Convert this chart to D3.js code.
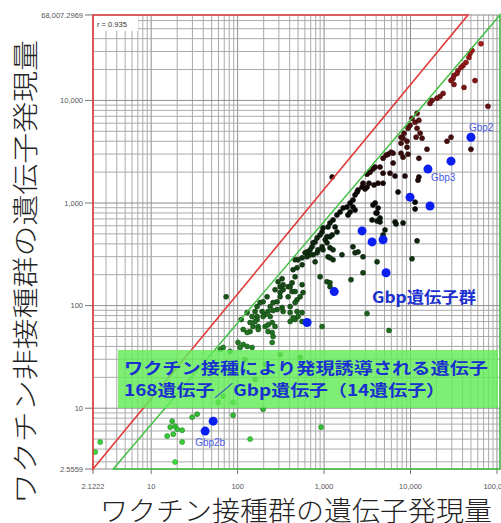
<!DOCTYPE html>
<html>
<head>
<meta charset="utf-8">
<script src="https://cdn.jsdelivr.net/npm/d3@7"></script>
<style>
  html, body { margin: 0; padding: 0; background: #fff; overflow: hidden; }
  svg { display: block; }
</style>
</head>
<body>
<svg id="chart" width="501" height="523"></svg>
<script>
// Axis ranges (expression levels, log scale)
const xDomain = [2.1222, 108400];
const yDomain = [2.5559, 68007.2969];

const xTickValues = [2.1222, 10, 100, 1000, 10000, 100000];
const xTickLabels = ["2.1222", "10", "100", "1,000", "10,000", "100,000"];
const yTickValues = [2.5559, 10, 100, 1000, 10000, 68007.2969];
const yTickLabels = ["2.5559", "10", "100", "1,000", "10,000", "68,007.2969"];

const correlationText = "r = 0.935";

// Boundary lines: [vaccinated, non-vaccinated]
const upperBoundary = [[2.1222, 2.5559], [46200, 68007.2969], [2.1222, 68007.2969]];
const lowerBoundary = [[3.64, 2.5559], [108400, 68007.2969], [108400, 2.5559]];

// Genes: [vaccinated group expression, non-vaccinated group expression]
const genePoints = [
  [65300,35700],[51400,30600],[48700,28600],[47400,26200],[43800,23400],[40500,21900],[38400,20900],
  [35400,19500],[34500,18300],[31800,17500],[31000,16400],[29400,15600],[55700,15600],[41500,13400],
  [31800,14300],[78700,8750],[23800,11700],[21900,10900],[20200,10500],[17700,10000],[16800,9350],
  [11900,7480],[10400,6680],[11300,6120],[12500,6400],[9870,5720],[9350,5350],[8410,4790],[7770,4380],
  [8190,4280],[11900,5350],[12900,4790],[11600,4380],[13600,4280],[9110,4000],[7770,3830],[9110,3500],
  [5950,3130],[5500,2990],[6280,3060],[5210,2920],[7770,3060],[9350,2990],[8190,2800],[4810,2730],
  [6280,2450],[12500,2730],[15500,3340],[26400,4000],[29400,4380],[50000,3340],[3890,2240],[3680,2140],
  [3400,2000],[4440,2240],[4810,1950],[6620,1830],[8630,1830],[12500,1790],
  [3140,1910],[5790,1950],[4810,1560],[4210,1560],[3780,1500],[2820,1560],[2750,1430],[2470,1340],
  [2410,1280],[2280,1200],[2160,1070],[3310,1560],[3140,1430],[2980,1370],[2000,1000],[1840,914],
  [1660,895],[1530,818],[1410,765],[1270,684],[1170,640],[1110,585],[2160,914],[2000,818],[1890,765],
  [2280,855],[3890,1000],[4210,895],[4100,800],[3590,684],[4100,669],[4440,654],[6620,654],[5070,547],
  [4810,489],[1340,585],[1410,523],[1240,489],[1170,468],[973,572],[948,523],[899,489],[830,457],
  [787,418],[746,409],[726,374],[689,350],[636,334],[603,327],[1080,468],[1030,438],[1080,409],
  [948,374],[973,350],[853,350],[830,327],[746,313],[689,313],[636,299],[557,292],[500,280],[462,280],
  [1170,366],[1270,350],[1110,299],[1170,292],[1270,280],[1610,313],[2160,374],[2280,327],[2820,299],
  [2470,334],[4100,267],[2820,209],[3140,83.6],[787,267],[899,191],[1080,171],[1170,167],[1170,153],
  [557,250],[487,234],[438,224],[462,191],[427,167],[384,153],[336,143],[310,134],[310,122],[286,109],
  [257,107],[238,97.8],[219,122],[197,109],[12200,1670],[7170,1280],[11300,1020],[11300,875],
  [3680,957],[3990,800],[4440,715],[8190,640],[6800,625],[11900,428],[10400,286],[2050,179],
  [5640,57.2],[948,62.5],[1240,1790],
  [327,183],[294,171],[310,153],[336,160],[271,143],[405,153],[427,137],[462,137],[384,122],[487,114],
  [557,160],[571,134],[528,122],[462,107],[405,97.8],[336,87.5],[327,95.7],[286,91.4],[257,89.5],
  [225,87.5],[208,81.8],[192,87.5],[182,107],[168,97.8],[159,87.5],[168,78.2],[147,78.2],[139.5,68.4],
  [168,73.1],[173,62.5],[208,62.5],[225,55.9],[238,78.2],[251,68.4],[271,62.5],[257,50.0],[251,43.8],
  [405,70.0],[462,73.1],[557,70.0],[557,85.5],[500,78.2],[129,85.5],[110,73.1],[159,70.0],[151,62.5],
  [173,58.5],[139.5,55.9],[116,58.5],[129,54.7],[101,43.8],[116,41.8],[107,39.1],[129,40.0],[147,39.1],
  [62.8,37.4],[68.0,39.1],[81.8,35.8],[73.6,122],[487,87.5],[197,78.2],[405,85.5],[438,76.0],
  [225,65.0],[251,54.7],
  [122,29.9],[208,26.7],[310,33.4],[81.8,22.9],[159,19.1],[528,31.3],
  [68.0,13.1],[88.7,11.4],[59.5,11.4],[34.0,8.75],[29.8,8.18],[17.5,7.48],[18.9,6.69],[16.6,6.54],
  [20.0,6.25],[22.8,6.1],[15.3,5.35],[18.0,5.59],[22.8,4.68],[88.7,8.55],[139.5,5.00],[18.9,2.99],
  [2.57,4.68],[2.25,3.74],[197,9.78],[923,6.54]
];

// Gbp family genes
const gbpPoints = [
  [50000,4380],[29400,2560],[15900,2140],[9870,1140],[16800,935],[2750,535],[3590,418],
  [4810,438],[5210,209],[1310,137],[636,68.4],[52.1,7.48],[42.1,5.98]
];
const gbpLabelNames = ["Gbp2", "Gbp3", "Gbp2b"];
const gbpLabelIndex = [0, 2, 12];

const boxLines = ["ワクチン接種により発現誘導される遺伝子", "168遺伝子／Gbp遺伝子（14遺伝子）"];
const groupLabel = "Gbp遺伝子群";
const xTitle = "ワクチン接種群の遺伝子発現量";
const yTitle = "ワクチン非接種群の遺伝子発現量";

// ---------------------------------------------------------------
const svg = d3.select("#chart");
const plot = { left: 93, right: 500, top: 15, bottom: 469 };
const jpFont = "'Noto Sans CJK JP', 'Noto Sans', sans-serif";
const numFont = "'Liberation Sans', Arial, sans-serif";

const x = d3.scaleLog().domain(xDomain).range([plot.left, plot.right]);
const y = d3.scaleLog().domain(yDomain).range([plot.bottom, plot.top]);

const colour = d3.scaleLog()
  .domain([yDomain[0], 1000, yDomain[1]])
  .range(["#3ee83e", "#050505", "#c81e1e"])
  .interpolate(d3.interpolateRgb)
  .clamp(true);

svg.append("defs").append("clipPath").attr("id", "plotClip")
  .append("rect")
  .attr("x", plot.left).attr("y", plot.top)
  .attr("width", plot.right - plot.left).attr("height", plot.bottom - plot.top);

// log grid: every 1..9 x 10^k inside the domain
function logGrid(domain) {
  const out = [];
  for (let e = 0; e <= 6; e++) {
    for (let m = 1; m <= 9; m++) {
      const v = m * Math.pow(10, e);
      if (v > domain[0] && v < domain[1]) out.push({ v, major: m === 1 });
    }
  }
  return out;
}

const grid = svg.append("g");
grid.selectAll("line.gx").data(logGrid(xDomain)).join("line")
  .attr("x1", d => x(d.v)).attr("x2", d => x(d.v))
  .attr("y1", plot.top).attr("y2", plot.bottom)
  .attr("stroke", d => d.major ? "#8e8e8e" : "#ababab")
  .attr("stroke-width", 1);
grid.selectAll("line.gy").data(logGrid(yDomain)).join("line")
  .attr("y1", d => y(d.v)).attr("y2", d => y(d.v))
  .attr("x1", plot.left).attr("x2", plot.right)
  .attr("stroke", d => d.major ? "#8e8e8e" : "#ababab")
  .attr("stroke-width", 1);

// frame
svg.append("rect")
  .attr("x", plot.left).attr("y", plot.top)
  .attr("width", plot.right - plot.left).attr("height", plot.bottom - plot.top)
  .attr("fill", "none").attr("stroke", "#8a8a8a").attr("stroke-width", 1);

// correlation label with white backing
svg.append("rect").attr("x", plot.left + 1).attr("y", plot.top + 1)
  .attr("width", 44).attr("height", 15).attr("fill", "#fff");
svg.append("text").attr("x", plot.left + 4).attr("y", plot.top + 12)
  .attr("font-family", numFont).attr("font-size", 7.5).attr("fill", "#333")
  .text(correlationText);

// axis ticks and labels
const axisG = svg.append("g").attr("font-family", numFont).attr("font-size", 7.5).attr("fill", "#555");
yTickValues.forEach((v, i) => {
  axisG.append("line").attr("x1", plot.left - 8).attr("x2", plot.left)
    .attr("y1", y(v)).attr("y2", y(v)).attr("stroke", "#777");
  axisG.append("text").attr("x", plot.left - 10).attr("y", y(v) + 2.5)
    .attr("text-anchor", "end").text(yTickLabels[i]);
});
xTickValues.forEach((v, i) => {
  axisG.append("line").attr("x1", x(v)).attr("x2", x(v))
    .attr("y1", plot.bottom).attr("y2", plot.bottom + 5).attr("stroke", "#777");
  axisG.append("text").attr("x", x(v)).attr("y", plot.bottom + 20)
    .attr("text-anchor", "middle").text(xTickLabels[i]);
});

const inner = svg.append("g").attr("clip-path", "url(#plotClip)");
const line = d3.line().x(d => x(d[0])).y(d => y(d[1]));

// boundary triangles (drawn unclipped so their edges sit on the frame)
svg.append("path").attr("d", line(upperBoundary) + "Z")
  .attr("fill", "none").attr("stroke", "#e23b3b").attr("stroke-width", 1.6);
svg.append("path").attr("d", line(lowerBoundary) + "Z")
  .attr("fill", "none").attr("stroke", "#3fbf3f").attr("stroke-width", 1.4);

// gene points
inner.selectAll("circle.gene").data(genePoints).join("circle")
  .attr("cx", d => x(d[0])).attr("cy", d => y(d[1])).attr("r", 2.5)
  .attr("fill", d => colour(d[1]))
  .attr("stroke", d => d3.color(colour(d[1])).darker(1.2))
  .attr("stroke-width", 0.6);

// Gbp genes
inner.selectAll("circle.gbp").data(gbpPoints).join("circle")
  .attr("cx", d => x(d[0])).attr("cy", d => y(d[1])).attr("r", 4.5)
  .attr("fill", "#0b1ff0");

// Gbp labels
const labelOffsets = [[-2, -6, "start"], [3, 12, "start"], [5, 15, "middle"]];
gbpLabelIndex.forEach((gi, k) => {
  const p = gbpPoints[gi];
  svg.append("text")
    .attr("x", x(p[0]) + labelOffsets[k][0]).attr("y", y(p[1]) + labelOffsets[k][1])
    .attr("text-anchor", labelOffsets[k][2])
    .attr("font-family", numFont).attr("font-size", 10).attr("fill", "#4a5ae6")
    .text(gbpLabelNames[k]);
});

// Gbp group caption
svg.append("text").attr("x", 372).attr("y", 303)
  .attr("font-family", jpFont).attr("font-weight", "bold").attr("font-size", 15.5)
  .attr("fill", "#1a2fcf").attr("textLength", 104).attr("lengthAdjust", "spacingAndGlyphs")
  .text(groupLabel);

// induced-gene annotation box
svg.append("rect").attr("x", 118).attr("y", 350).attr("width", 380).attr("height", 58)
  .attr("fill", "#62ec55").attr("fill-opacity", 0.82);
svg.append("text").attr("x", 124).attr("y", 374)
  .attr("font-family", jpFont).attr("font-weight", "bold").attr("font-size", 16)
  .attr("fill", "#1a2fcf").attr("textLength", 364).attr("lengthAdjust", "spacingAndGlyphs")
  .text(boxLines[0]);
svg.append("text").attr("x", 124).attr("y", 396)
  .attr("font-family", jpFont).attr("font-weight", "bold").attr("font-size", 16)
  .attr("fill", "#1a2fcf").attr("textLength", 321).attr("lengthAdjust", "spacingAndGlyphs")
  .text(boxLines[1]);

// axis titles
svg.append("text").attr("x", 296).attr("y", 521)
  .attr("text-anchor", "middle")
  .attr("font-family", jpFont).attr("font-weight", 300).attr("font-size", 27).attr("fill", "#222")
  .attr("textLength", 392).attr("lengthAdjust", "spacingAndGlyphs")
  .text(xTitle);
svg.append("text").attr("transform", "translate(35,272) rotate(-90)")
  .attr("text-anchor", "middle")
  .attr("font-family", jpFont).attr("font-weight", 300).attr("font-size", 26).attr("fill", "#222")
  .attr("textLength", 464).attr("lengthAdjust", "spacingAndGlyphs")
  .text(yTitle);
</script>
</body>
</html>
